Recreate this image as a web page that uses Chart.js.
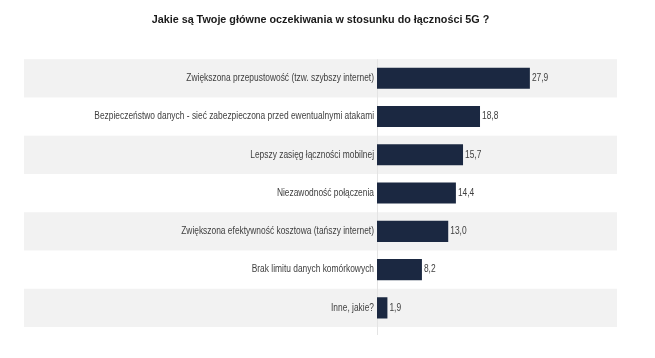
<!DOCTYPE html>
<html><head><meta charset="utf-8">
<script src="https://cdn.jsdelivr.net/npm/chart.js@4/dist/chart.umd.min.js"></script>
<style>html,body{margin:0;padding:0;background:#fff}#wrap{width:655px;height:358px}</style>
</head><body><div id="wrap"><canvas id="c" width="655" height="358"></canvas></div>
<script>
const titleText = 'Jakie są Twoje główne oczekiwania w stosunku do łączności 5G ?';
const categories = [
  'Zwiększona przepustowość (tzw. szybszy internet)',
  'Bezpieczeństwo danych - sieć zabezpieczona przed ewentualnymi atakami',
  'Lepszy zasięg łączności mobilnej',
  'Niezawodność połączenia',
  'Zwiększona efektywność kosztowa (tańszy internet)',
  'Brak limitu danych komórkowych',
  'Inne, jakie?'
];
const values = [27.9, 18.8, 15.7, 14.4, 13.0, 8.2, 1.9];

const FONT = '"Liberation Sans", Arial, sans-serif';
const SQUEEZE = 0.84;
const BAND_LEFT = 24;

const origFill = CanvasRenderingContext2D.prototype.fillText;
function squeezedText(ctx, t, x, y, s) {
  ctx.save();
  ctx.translate(x, y);
  ctx.scale(s, 1);
  origFill.call(ctx, t, 0, 0);
  ctx.restore();
}

const bandPlugin = {
  id: 'bands',
  beforeDraw(chart) {
    const {ctx, chartArea, scales} = chart;
    if (!ctx.__patched) {
      ctx.__patched = true;
      ctx.fillText = function (t, x, y, mw) {
        if (this.__squeeze) {
          squeezedText(this, t, x, y, /bold/.test(this.font) ? 0.98 : SQUEEZE);
        } else {
          origFill.call(this, t, x, y, mw);
        }
      };
    }
    ctx.__squeeze = true;
    const y = scales.y;
    const n = categories.length;
    const step = (chartArea.bottom - chartArea.top) / n;
    ctx.save();
    for (let i = 0; i < n; i++) {
      if (i % 2 === 0) {
        ctx.fillStyle = '#f2f2f2';
        const c = y.getPixelForValue(i);
        ctx.fillRect(BAND_LEFT, c - step / 2, chartArea.right - BAND_LEFT, step);
      }
    }
    ctx.strokeStyle = '#e4e4e4';
    ctx.lineWidth = 1;
    ctx.beginPath();
    ctx.moveTo(chartArea.left + 0.5, chartArea.top);
    ctx.lineTo(chartArea.left + 0.5, chartArea.bottom + 8);
    ctx.stroke();
    ctx.restore();
  },
  beforeDatasetsDraw(chart) {
    chart.ctx.__squeeze = false;
  },
  afterDatasetsDraw(chart) {
    const {ctx} = chart;
    const meta = chart.getDatasetMeta(0);
    ctx.save();
    ctx.fillStyle = '#404040';
    ctx.font = '10px ' + FONT;
    ctx.textBaseline = 'middle';
    ctx.textAlign = 'left';
    meta.data.forEach((bar, i) => {
      squeezedText(ctx, values[i].toFixed(1).replace('.', ','), bar.x + 2, bar.y, SQUEEZE);
    });
    ctx.restore();
  }
};

new Chart(document.getElementById('c'), {
  type: 'bar',
  data: {
    labels: categories,
    datasets: [{
      data: values,
      backgroundColor: '#1b2841',
      borderWidth: 0,
      categoryPercentage: 0.55,
      barPercentage: 1
    }]
  },
  options: {
    indexAxis: 'y',
    responsive: false,
    animation: false,
    layout: { padding: { left: BAND_LEFT, right: 38, top: 0, bottom: 31 } },
    plugins: {
      legend: { display: false },
      tooltip: { enabled: false },
      title: {
        display: true,
        text: titleText,
        color: '#1a1a1a',
        font: { family: FONT, size: 11, weight: 'bold', lineHeight: 1.2 },
        padding: { top: 13, bottom: 33 }
      }
    },
    scales: {
      x: { display: false, min: 0, max: 43.8 },
      y: {
        grid: { display: false, drawTicks: false },
        border: { display: false },
        ticks: { color: '#404040', font: { family: FONT, size: 10 }, padding: 3, autoSkip: false },
        afterFit(scale) { scale.width = 377 - BAND_LEFT; }
      }
    }
  },
  plugins: [bandPlugin]
});
</script>
</body></html>
